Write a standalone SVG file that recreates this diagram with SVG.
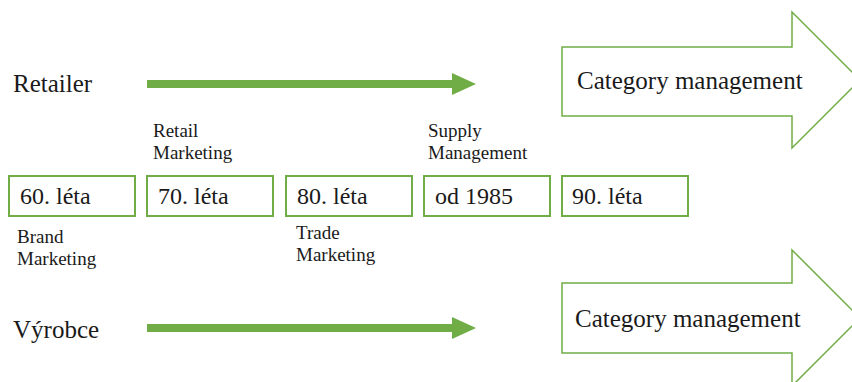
<svg xmlns="http://www.w3.org/2000/svg" width="852" height="382" viewBox="0 0 852 382">
  <defs>
    <style>
      text { font-family: 'Liberation Serif', 'Times New Roman', Times, 'DejaVu Serif', serif; fill: #1a1a1a; }
      .big { font-size: 25px; }
      .box-label { font-size: 24px; }
      .small { font-size: 19px; }
      .period { fill: #ffffff; stroke: #70AD47; stroke-width: 2; }
      .bigarrow { fill: #ffffff; stroke: #70AD47; stroke-width: 1.5; stroke-linejoin: miter; }
      .flow { fill: #70AD47; stroke: none; }
    </style>
  </defs>

  <rect width="852" height="382" fill="#ffffff"/>

  <!-- row labels -->
  <g id="retailer">
    <text class="big" x="13" y="92">Retailer</text>
  </g>
  <g id="vyrobce">
    <text class="big" x="13" y="338">Výrobce</text>
  </g>

  <!-- flow connectors -->
  <g id="connectors">
    <path class="flow" d="M147,80 L452,80 L452,73 L476,84 L452,95 L452,88 L147,88 Z"/>
    <path class="flow" d="M147,324 L452,324 L452,317 L476,328 L452,339 L452,332 L147,332 Z"/>
  </g>

  <!-- outcome arrows -->
  <g id="cm-retailer">
    <path class="bigarrow" d="M562,47 L792,47 L792,12 L860,80 L792,148 L792,116 L562,116 Z"/>
    <text class="big" x="577" y="89">Category management</text>
  </g>
  <g id="cm-vyrobce">
    <path class="bigarrow" d="M562,283 L792,283 L792,250 L860,318 L792,386 L792,353 L562,353 Z"/>
    <text class="big" x="575" y="327">Category management</text>
  </g>

  <!-- timeline periods -->
  <g id="p60">
    <rect class="period" x="9" y="176" width="126" height="40"/>
    <text class="box-label" x="20" y="204">60. léta</text>
  </g>
  <g id="p70">
    <rect class="period" x="147" y="176" width="126" height="40"/>
    <text class="box-label" x="158" y="204">70. léta</text>
  </g>
  <g id="p80">
    <rect class="period" x="286" y="176" width="126" height="40"/>
    <text class="box-label" x="297" y="204">80. léta</text>
  </g>
  <g id="p1985">
    <rect class="period" x="424" y="176" width="126" height="40"/>
    <text class="box-label" x="435" y="204">od 1985</text>
  </g>
  <g id="p90">
    <rect class="period" x="562" y="176" width="126" height="40"/>
    <text class="box-label" x="572" y="204">90. léta</text>
  </g>

  <!-- period annotations -->
  <g id="retail-marketing">
    <text class="small" x="153" y="137">Retail</text>
    <text class="small" x="153" y="159">Marketing</text>
  </g>
  <g id="supply-management">
    <text class="small" x="428" y="137">Supply</text>
    <text class="small" x="428" y="159">Management</text>
  </g>
  <g id="brand-marketing">
    <text class="small" x="17" y="243">Brand</text>
    <text class="small" x="17" y="265">Marketing</text>
  </g>
  <g id="trade-marketing">
    <text class="small" x="296" y="239">Trade</text>
    <text class="small" x="296" y="261">Marketing</text>
  </g>
</svg>
